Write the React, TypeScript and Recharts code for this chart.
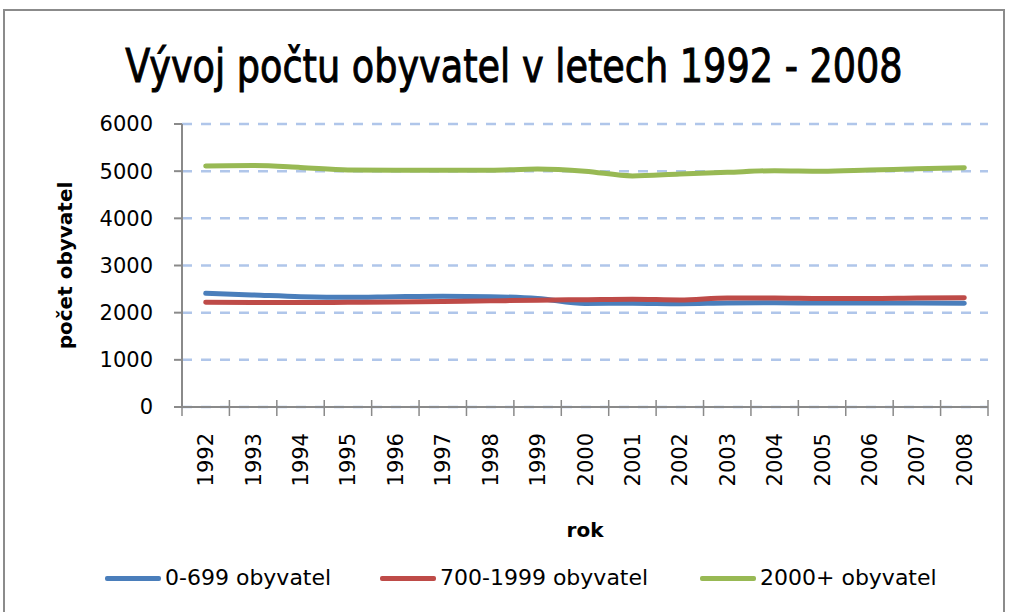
import { LineChart, Line, XAxis, YAxis, CartesianGrid, Legend, Label } from "recharts"

const years = ["1992", "1993", "1994", "1995", "1996", "1997", "1998", "1999", "2000", "2001", "2002", "2003", "2004", "2005", "2006", "2007", "2008"]
const small = [2410, 2375, 2340, 2325, 2340, 2350, 2340, 2300, 2195, 2200, 2190, 2205, 2210, 2205, 2205, 2205, 2200]
const middle = [2220, 2215, 2215, 2220, 2225, 2235, 2250, 2265, 2275, 2285, 2270, 2310, 2310, 2300, 2300, 2310, 2315]
const large = [5110, 5120, 5080, 5025, 5020, 5020, 5020, 5045, 5000, 4900, 4940, 4975, 5010, 5000, 5025, 5050, 5075]
const yTicks = [0, 1000, 2000, 3000, 4000, 5000, 6000]

const series = [
  { key: "small", name: "0-699 obyvatel", color: "#4a7ebb" },
  { key: "middle", name: "700-1999 obyvatel", color: "#be4b48" },
  { key: "large", name: "2000+ obyvatel", color: "#98b954" },
]

const data = years.map((year, i) => ({ year, small: small[i], middle: middle[i], large: large[i] }))

const AXIS = "#8a8a8a"
const FONT = "'DejaVu Sans', sans-serif"
const legendLeft = [105, 380, 700]

function YearTick(props: any) {
  const { x, y, payload, index } = props
  const half = payload.offset || 0
  return (
    <g>
      <line x1={x - half} x2={x - half} y1={y - 7} y2={y + 9} stroke={AXIS} strokeWidth={1.5} />
      {index === years.length - 1 && (
        <line x1={x + half} x2={x + half} y1={y - 7} y2={y + 9} stroke={AXIS} strokeWidth={1.5} />
      )}
      <text
        x={x}
        y={y + 26}
        dy="0.36em"
        textAnchor="end"
        transform={`rotate(-90 ${x} ${y + 26})`}
        fill="#000"
        fontSize={21}
        fontFamily={FONT}
      >
        {payload.value}
      </text>
    </g>
  )
}

function LegendBox() {
  return (
    <div style={{ position: "relative", height: 30, fontFamily: FONT, fontSize: 22 }}>
      {series.map((s, i) => (
        <div
          key={s.key}
          style={{ position: "absolute", left: legendLeft[i], top: 0, display: "flex", alignItems: "center", gap: 4, whiteSpace: "nowrap" }}
        >
          <div style={{ width: 56, height: 5, borderRadius: 2, background: s.color }} />
          <span style={{ color: "#000", lineHeight: "30px" }}>{s.name}</span>
        </div>
      ))}
    </div>
  )
}

export default function App() {
  return (
    <div style={{ position: "absolute", left: 0, top: 0, width: 1009, height: 612, overflow: "hidden", background: "#fff" }}>
      <div
        style={{
          position: "absolute",
          left: 3,
          top: 9,
          width: 1002,
          height: 700,
          border: "2px solid #8b8b8b",
          boxSizing: "border-box",
        }}
      />
      <div
        style={{
          position: "absolute",
          left: 0,
          top: 36,
          width: 1028,
          textAlign: "center",
          fontFamily: "'Liberation Sans Narrow', 'DejaVu Sans Condensed', 'Open Sans', sans-serif",
          fontSize: 46,
          lineHeight: "60px",
          color: "#000",
          whiteSpace: "nowrap",
          WebkitTextStroke: "0.9px #000",
          transform: "scaleX(0.885)",
          transformOrigin: "514px 30px",
        }}
      >
        Vývoj počtu obyvatel v letech 1992 - 2008
      </div>
      <div style={{ position: "absolute", left: 0, top: 0 }}>
        <LineChart width={1009} height={612} data={data} margin={{ top: 124, right: 21, bottom: 120, left: 0 }}>
          <CartesianGrid vertical={false} stroke="#b0c6ea" strokeWidth={2.5} strokeDasharray="10 9" />
          <XAxis
            dataKey="year"
            scale="band"
            height={85}
            axisLine={{ stroke: AXIS, strokeWidth: 2 }}
            tickLine={false}
            tickSize={0}
            tickMargin={0}
            interval={0}
            tick={<YearTick />}
          >
            <Label
              value="rok"
              position="bottom"
              offset={31}
              fill="#000"
              fontSize={20}
              fontWeight="bold"
              fontFamily={FONT}
            />
          </XAxis>
          <YAxis
            width={182}
            domain={[0, 6000]}
            ticks={yTicks}
            interval={0}
            axisLine={{ stroke: AXIS, strokeWidth: 2 }}
            tickLine={{ stroke: AXIS, strokeWidth: 2 }}
            tickSize={8}
            tickMargin={21}
            tick={{ fill: "#000", fontSize: 21, fontFamily: FONT }}
          >
            <Label
              content={({ viewBox }: any) => {
                const cx = viewBox.x + 65
                const cy = viewBox.y + viewBox.height / 2
                return (
                  <text
                    x={cx}
                    y={cy}
                    dy="0.36em"
                    textAnchor="middle"
                    transform={`rotate(-90 ${cx} ${cy})`}
                    fontFamily={FONT}
                    fontWeight="bold"
                    fontSize={20}
                    fill="#000"
                  >
                    počet obyvatel
                  </text>
                )
              }}
            />
          </YAxis>
          <Legend
            layout="horizontal"
            verticalAlign="middle"
            align="center"
            wrapperStyle={{ top: 563, left: 0, width: 1009 }}
            content={<LegendBox />}
          />
          {series.map((s) => (
            <Line
              key={s.key}
              type="monotone"
              dataKey={s.key}
              name={s.name}
              stroke={s.color}
              strokeWidth={5}
              strokeLinecap="round"
              dot={false}
              activeDot={false}
              isAnimationActive={false}
            />
          ))}
        </LineChart>
      </div>
    </div>
  )
}
